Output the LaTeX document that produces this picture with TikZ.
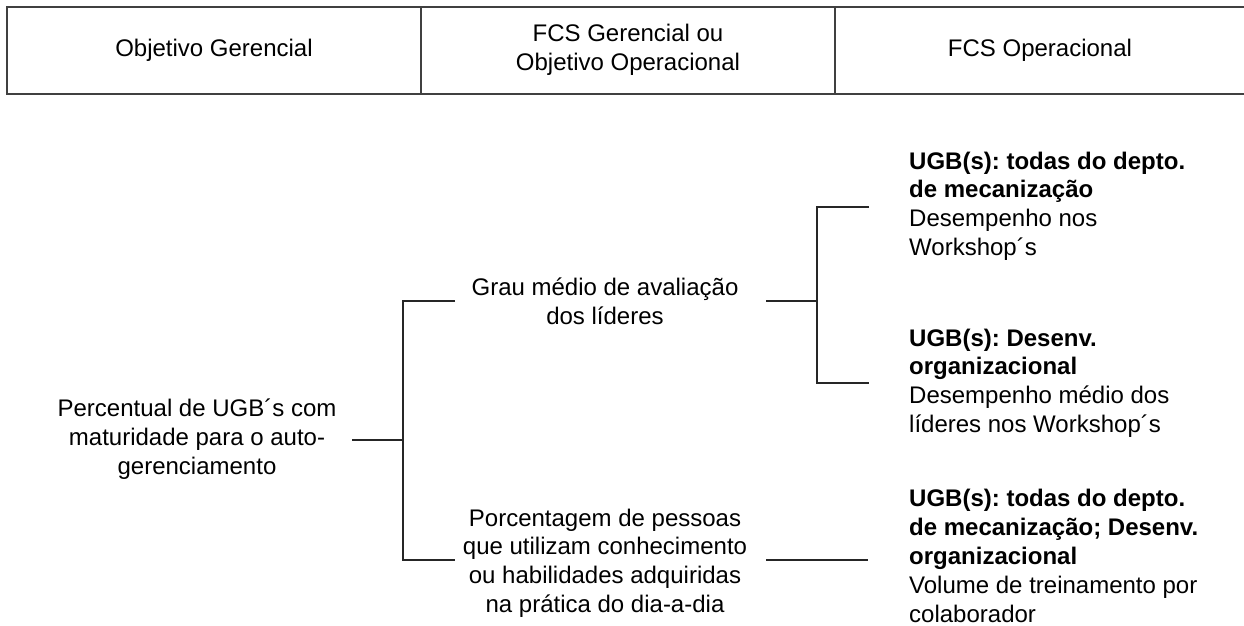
\documentclass[tikz,border=0pt]{standalone}
\usepackage{fontspec}
\setmainfont{Liberation Sans}
\frenchspacing
\begin{document}
\begin{tikzpicture}[x=1pt,y=-1pt,
  txt/.style={font=\fontsize{24}{28.8}\selectfont\frenchspacing, inner sep=0pt},
  ctr/.style={txt, align=center},
  lft/.style={txt, align=left, anchor=west},
  hdr/.style={draw=black!75, line width=1.4pt},
  link/.style={draw=black!85, line width=1.2pt}]
\useasboundingbox (0,0) rectangle (1244,626);
% header
\draw[hdr] (1244,7) -- (7,7) -- (7,94) -- (1244,94);
\draw[hdr] (421,7) -- (421,94);
\draw[hdr] (835,7) -- (835,94);
\node[ctr] (h1) at (214,50) {Objetivo Gerencial};
\node[ctr] (h2) at (628,50) {FCS Gerencial ou\\Objetivo Operacional};
\node[ctr] (h3) at (1040,50) {FCS Operacional};
% nodes
\node[ctr] (root) at (197,439) {Percentual de UGB´s com\\maturidade para o auto-\\gerenciamento};
\node[ctr] (m1) at (605,301) {Grau médio de avaliação\\dos líderes};
\node[ctr] (m2) at (605,563) {Porcentagem de pessoas\\que utilizam conhecimento\\ou habilidades adquiridas\\na prática do dia-a-dia};
\node[lft] (r1) at (909,206) {\textbf{UGB(s): todas do depto.}\\\textbf{de mecanização}\\Desempenho nos\\Workshop´s};
\node[lft] (r2) at (909,383) {\textbf{UGB(s): Desenv.}\\\textbf{organizacional}\\Desempenho médio dos\\líderes nos Workshop´s};
\node[lft] (r3) at (909,556) {\textbf{UGB(s): todas do depto.}\\\textbf{de mecanização; Desenv.}\\\textbf{organizacional}\\Volume de treinamento por\\colaborador};
% connector coordinates
\coordinate (rootOut) at (352,440);
\coordinate (jA) at (403,440);
\coordinate (m1in) at (455,301);
\coordinate (m2in) at (455,560);
\coordinate (m1out) at (766,301);
\coordinate (jB) at (817,301);
\coordinate (r1in) at (869,207);
\coordinate (r2in) at (869,383);
\coordinate (m2out) at (766,560);
\coordinate (r3in) at (868,560);
% connectors
\draw[link] (rootOut) -- (jA);
\draw[link] (m1in) -| (jA) |- (m2in);
\draw[link] (m1out) -- (jB);
\draw[link] (r1in) -| (jB) |- (r2in);
\draw[link] (m2out) -- (r3in);
\end{tikzpicture}
\end{document}
